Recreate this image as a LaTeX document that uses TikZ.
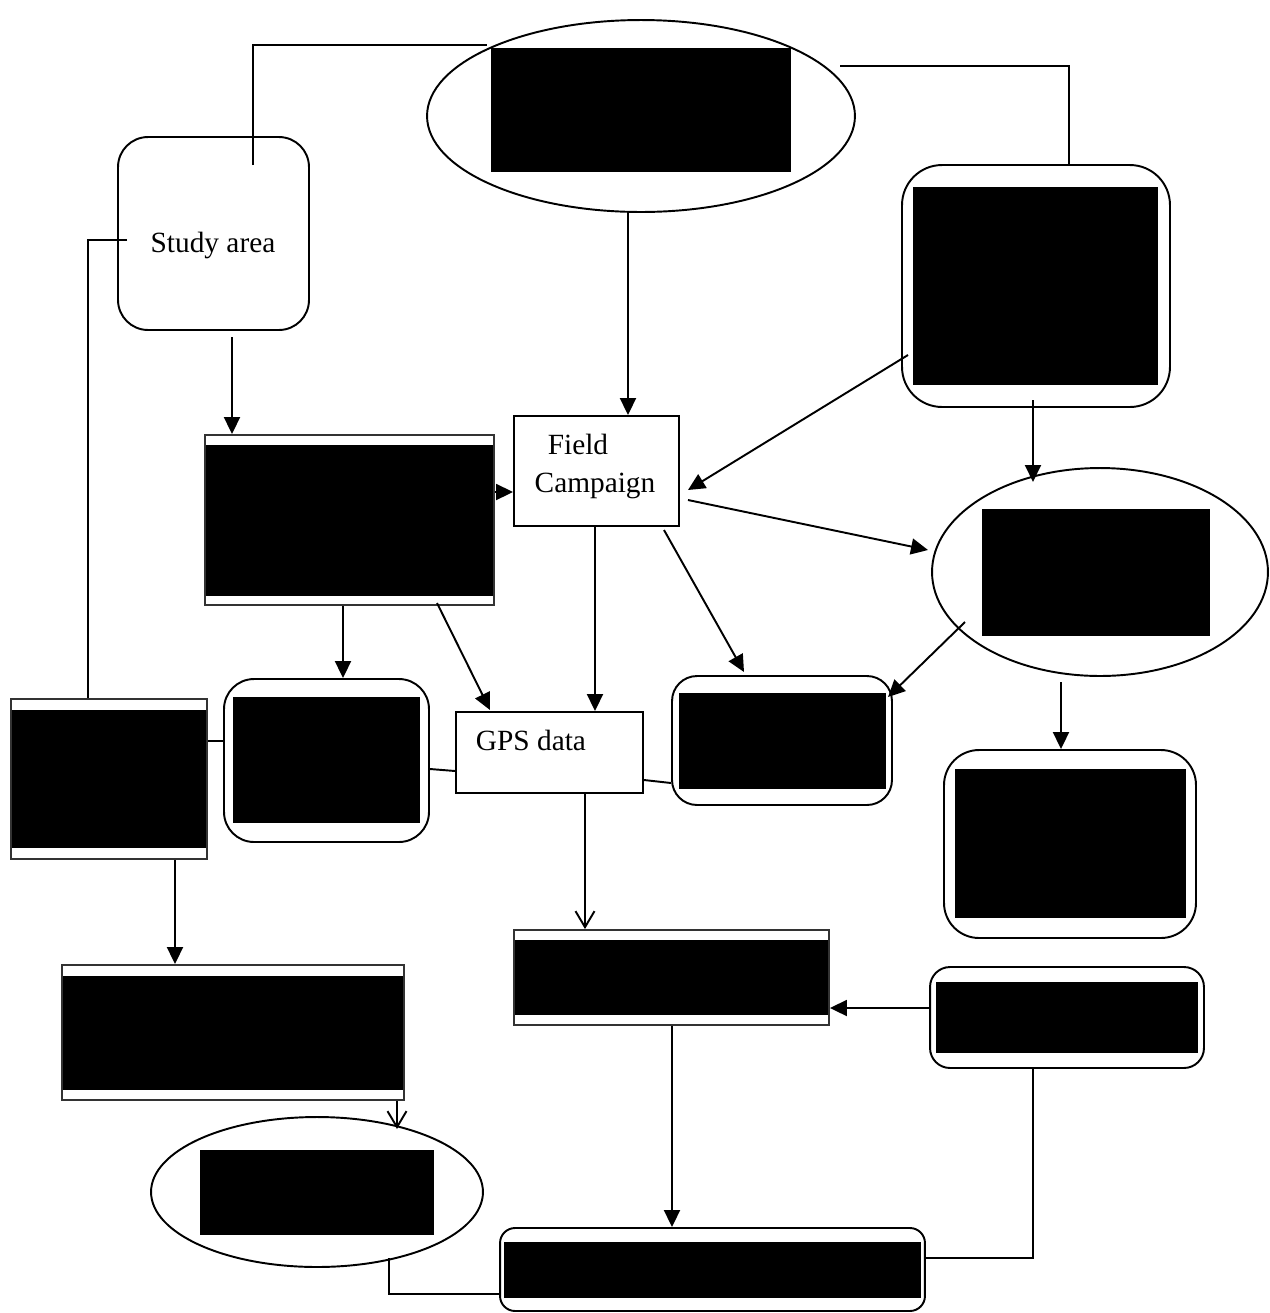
\documentclass[tikz,border=0pt]{standalone}
\usepackage{fontspec}
\setmainfont{Liberation Serif}
\usetikzlibrary{arrows.meta,shapes.geometric}
\begin{document}
\begin{tikzpicture}[x=0.02cm,y=-0.02cm,
 ln/.style={line width=1.1pt},
 arr/.style={ln,-{Triangle[length=0.34cm,width=0.32cm]}},
 oarr/.style={ln,-{Straight Barb[length=0.32cm,width=0.38cm]}},
 sq/.style={draw,line width=1.1pt,inner sep=0,rectangle},
 band/.style={draw=black!80,line width=1.1pt,inner sep=0,rectangle},
 rr/.style={draw,line width=1.1pt,inner sep=0,rectangle,rounded corners=#1},
 ell/.style={draw,line width=1.1pt,inner sep=0,ellipse},
 txt/.style={font=\fontsize{16.7}{20}\selectfont,inner sep=0,anchor=base}]
\useasboundingbox (0,0) rectangle (1270,1313);

% shapes
\node[ell,minimum width=8.56cm,minimum height=3.84cm] (ell1) at (641,116) {};
\node[rr=0.6cm,minimum width=3.82cm,minimum height=3.86cm] (study) at (213.5,233.5) {};
\node[rr=0.8cm,minimum width=5.36cm,minimum height=4.84cm] (trbox) at (1036,286) {};
\node[sq,minimum width=3.3cm,minimum height=2.2cm] (field) at (596.5,471) {};
\node[band,minimum width=5.78cm,minimum height=3.4cm] (lbox1) at (349.5,520) {};
\node[ell,minimum width=6.72cm,minimum height=4.16cm] (rell) at (1100,572) {};
\node[rr=0.6cm,minimum width=4.1cm,minimum height=3.26cm] (mlr) at (326.5,760.5) {};
\node[sq,minimum width=3.74cm,minimum height=1.62cm] (gps) at (549.5,752.5) {};
\node[rr=0.5cm,minimum width=4.4cm,minimum height=2.58cm] (mrr) at (782,740.5) {};
\node[rr=0.7cm,minimum width=5.04cm,minimum height=3.76cm] (brr) at (1070,844) {};
\node[band,minimum width=3.92cm,minimum height=3.2cm] (lbox2) at (109,779) {};
\node[band,minimum width=6.84cm,minimum height=2.7cm] (blbox) at (233,1032.5) {};
\node[ell,minimum width=6.64cm,minimum height=3.0cm] (bell) at (317,1192) {};
\node[band,minimum width=6.3cm,minimum height=1.9cm] (mband) at (671.5,977.5) {};
\node[rr=0.4cm,minimum width=5.48cm,minimum height=2.02cm] (srr) at (1067,1017.5) {};
\node[rr=0.3cm,minimum width=8.5cm,minimum height=1.66cm] (bot) at (712.5,1269.5) {};

% redacted blocks
\fill (491,48) rectangle (791,172);
\fill (913,187) rectangle (1158,385);
\fill (206,445) rectangle (493,596);
\fill (982,509) rectangle (1210,636);
\fill (233,697) rectangle (420,823);
\fill (679,693) rectangle (886,789);
\fill (955,769) rectangle (1186,918);
\fill (12,710) rectangle (206,848);
\fill (63,976) rectangle (403,1090);
\fill (200,1150) rectangle (434,1235);
\fill (515,940) rectangle (828,1015);
\fill (936,982) rectangle (1198,1053);
\fill (504,1242) rectangle (921,1298);

% texts
\node[txt] (studyT) at (213,252) {Study area};
\node[txt] (fieldT1) at (578,454) {Field};
\node[txt] (fieldT2) at (595,492) {Campaign};
\node[txt] (gpsT) at (531,750) {GPS data};

% free ends
\coordinate (s1) at (253,165);
\coordinate (e1) at (487,45);
\coordinate (s2) at (127,240);
\coordinate (a1s) at (232,337);
\coordinate (e2) at (840,66);
\coordinate (a4s) at (908,355);
\coordinate (a4e) at (688,490);
\coordinate (a5s) at (688,500);
\coordinate (a5e) at (928,550);
\coordinate (a6s) at (664,530);
\coordinate (a6e) at (744,672);
\coordinate (a8s) at (437,603);
\coordinate (a8e) at (490,710);
\coordinate (a10s) at (1033,400);
\coordinate (a10e) at (1033,482);
\coordinate (a11s) at (965,622);
\coordinate (a11e) at (888,697);
\coordinate (a12s) at (1061,682);
\coordinate (a14e) at (397,1129);
\coordinate (l7s) at (389,1258);

% connectors
\draw[ln] (s1) |- (e1);
\draw[ln] (s2) -| (lbox2.north -| 88,0);
\draw[arr] (a1s) -- (lbox1.north -| 232,0);
\draw[ln] (e2) -| (trbox.north -| 1069,0);
\draw[arr] (ell1.south -| 628,0) -- (field.north -| 628,0);
\draw[arr] (lbox1.east |- 0,492) -- (field.west |- 0,492);
\draw[arr] (a4s) -- (a4e);
\draw[arr] (a5s) -- (a5e);
\draw[arr] (a6s) -- (a6e);
\draw[arr] (field.south -| 595,0) -- (gps.north -| 595,0);
\draw[arr] (a8s) -- (a8e);
\draw[arr] (lbox1.south -| 343,0) -- (mlr.north -| 343,0);
\draw[arr] (a10s) -- (a10e);
\draw[arr] (a11s) -- (a11e);
\draw[arr] (a12s) -- (brr.north -| 1061,0);
\draw[ln] (mlr.east |- 0,769) -- (gps.west |- 0,771);
\draw[ln] (gps.east |- 0,780) -- (mrr.west |- 0,783);
\draw[ln] (lbox2.east |- 0,741) -- (mlr.west |- 0,741);
\draw[arr] (lbox2.south -| 175,0) -- (blbox.north -| 175,0);
\draw[oarr] (blbox.south -| 397,0) -- (a14e);
\draw[ln] (l7s) |- (bot.west |- 0,1294);
\draw[oarr] (gps.south -| 585,0) -- (mband.north -| 585,0);
\draw[arr] (srr.west |- 0,1008) -- (mband.east |- 0,1008);
\draw[arr] (mband.south -| 672,0) -- (bot.north -| 672,0);
\draw[ln] (srr.south -| 1033,0) |- (bot.east |- 0,1258);
\end{tikzpicture}
\end{document}
